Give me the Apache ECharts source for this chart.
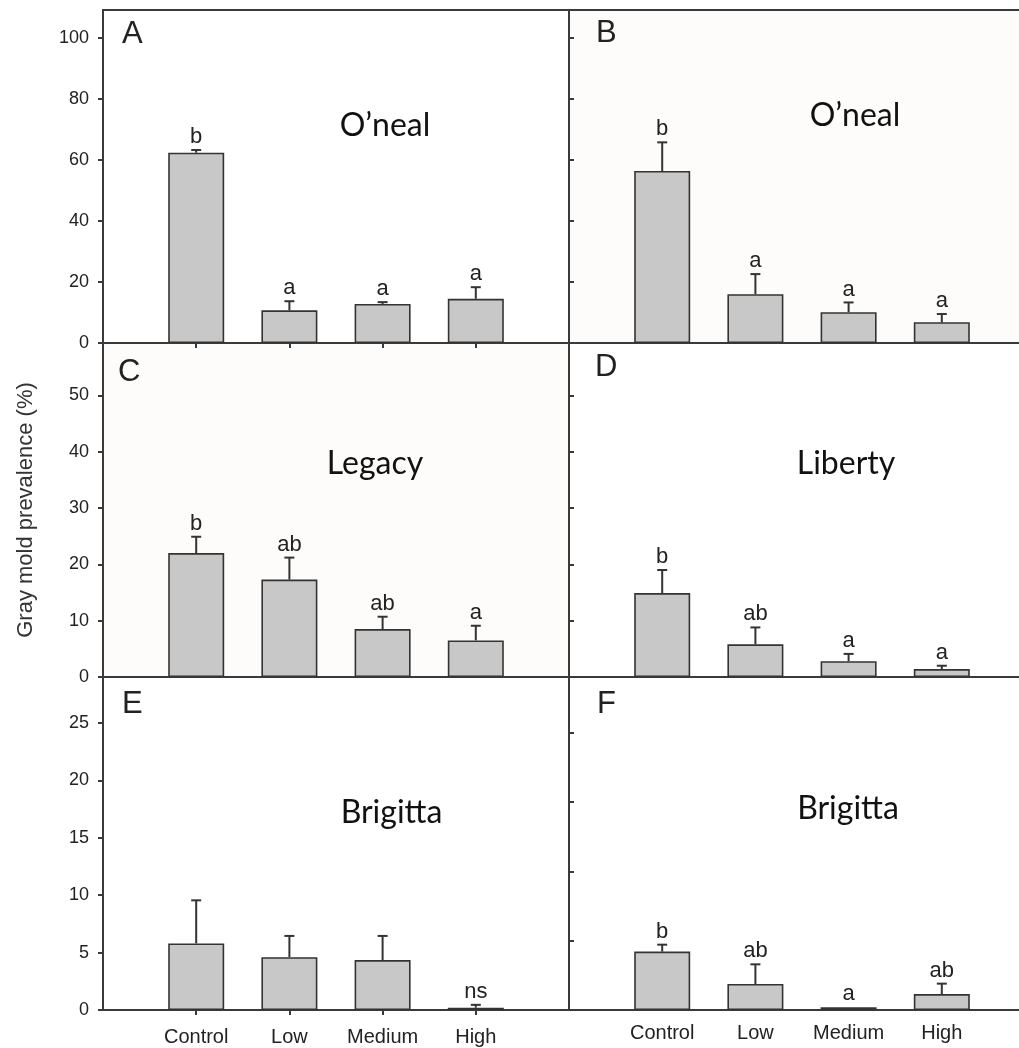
<!DOCTYPE html>
<html><head><meta charset="utf-8">
<script src="https://cdn.jsdelivr.net/npm/echarts@6/dist/echarts.min.js"></script>
<style>html,body{margin:0;padding:0;background:#fff}#c{width:1019px;height:1048px}</style>
</head><body><div id="c"></div>
<script>
// ---- data ----
const categories = ['Control', 'Low', 'Medium', 'High'];
const panelLetters = ['A', 'B', 'C', 'D', 'E', 'F'];
const cultivars = ['O\u2019neal', 'O\u2019neal', 'Legacy', 'Liberty', 'Brigitta', 'Brigitta'];
const yTitle = 'Gray mold prevalence (%)';

const meanA = [62.4, 10.7, 12.8, 14.5];
const errA  = [0.9, 3.0, 0.6, 3.8];
const sigA  = ['b', 'a', 'a', 'a'];

const meanB = [56.4, 16.0, 10.1, 6.8];
const errB  = [9.4, 6.6, 3.2, 2.7];
const sigB  = ['b', 'a', 'a', 'a'];

const meanC = [22.0, 17.3, 8.5, 6.5];
const errC  = [2.9, 3.9, 2.2, 2.6];
const sigC  = ['b', 'ab', 'ab', 'a'];

const meanD = [14.9, 5.8, 2.8, 1.4];
const errD  = [4.1, 3.0, 1.3, 0.6];
const sigD  = ['b', 'ab', 'a', 'a'];

const meanE = [5.8, 4.6, 4.35, 0.2];
const errE  = [3.75, 1.85, 2.1, 0.25];
const sigE  = ['', '', '', 'ns'];

const meanF = [5.05, 2.25, 0.23, 1.38];
const errF  = [0.6, 1.7, 0, 0.9];
const sigF  = ['b', 'ab', 'a', 'ab'];

const ticksTop = [0, 20, 40, 60, 80, 100];
const ticksMid = [0, 10, 20, 30, 40, 50];
const ticksBottomLeft = [0, 5, 10, 15, 20, 25];
const ticksBottomRight = [6, 12, 18, 24];
const maxTop = 109.2, maxMid = 59.3, maxBottomLeft = 29, maxBottomRight = 28.8;

// ---- layout ----
const panels = [
  {mean: meanA, err: errA, sig: sigA, ticks: ticksTop, max: maxTop, left: 103, top: 10, h: 333, labels: true, xTicks: true, xLabels: false, bg: '#ffffff'},
  {mean: meanB, err: errB, sig: sigB, ticks: ticksTop, max: maxTop, left: 569, top: 10, h: 333, labels: false, xTicks: false, xLabels: false, bg: '#fdfcfa'},
  {mean: meanC, err: errC, sig: sigC, ticks: ticksMid, max: maxMid, left: 103, top: 343, h: 334, labels: true, xTicks: false, xLabels: false, bg: '#fdfcfa'},
  {mean: meanD, err: errD, sig: sigD, ticks: ticksMid, max: maxMid, left: 569, top: 343, h: 334, labels: false, xTicks: false, xLabels: false, bg: '#ffffff'},
  {mean: meanE, err: errE, sig: sigE, ticks: ticksBottomLeft, max: maxBottomLeft, left: 103, top: 677, h: 333, labels: true, xTicks: true, xLabels: true, labelMargin: 17, bg: '#ffffff'},
  {mean: meanF, err: errF, sig: sigF, ticks: ticksBottomRight, max: maxBottomRight, left: 569, top: 677, h: 333, labels: false, xTicks: false, xLabels: true, labelMargin: 13, bg: '#ffffff'}
];
const letterPos = [[122, 34], [596, 33.5], [118, 372.5], [595, 367.5], [122, 704], [597, 704]];
const namePos = [[385, 125.5], [855, 115.5], [375, 463.5], [846, 463.3], [391.5, 812.3], [848, 808.3]];

const AX = '#3a3a3a';
const SANS = '"Liberation Sans", Arial, sans-serif';
const catPos = categories.map((c, i) => i + 1);

const grid = [], xAxis = [], yAxis = [], series = [], graphic = [];
panels.forEach((p, i) => {
  grid.push({left: p.left, top: p.top, width: 466, height: p.h, show: true,
    outerBoundsMode: 'none', containLabel: false,
    backgroundColor: p.bg, borderColor: AX, borderWidth: 2});
  xAxis.push({type: 'value', gridIndex: i, min: 0, max: 5,
    axisLine: {show: true, onZero: false, lineStyle: {color: AX, width: 2}},
    axisTick: {show: p.xTicks, customValues: catPos, length: 5, lineStyle: {color: AX, width: 2}},
    axisLabel: {show: p.xLabels, customValues: catPos, formatter: v => categories[Math.round(v) - 1] || '',
      fontSize: 20, fontFamily: SANS, color: '#222', margin: p.labelMargin || 12},
    splitLine: {show: false}});
  const y = {type: 'value', gridIndex: i, min: 0, max: p.max,
    axisLine: {show: true, lineStyle: {color: AX, width: 2}},
    axisTick: {show: true, inside: !p.labels, customValues: p.ticks, length: 5, lineStyle: {color: AX, width: 2}},
    axisLabel: {show: p.labels, customValues: p.ticks, fontSize: 18, fontFamily: SANS, color: '#222', margin: 14},
    splitLine: {show: false}};
  if (i === 2) {
    y.name = yTitle; y.nameLocation = 'middle'; y.nameGap = 66;
    y.nameTextStyle = {fontSize: 22, fontFamily: SANS, color: '#333'};
  }
  yAxis.push(y);
  series.push({type: 'bar', xAxisIndex: i, yAxisIndex: i, barWidth: 56,
    data: p.mean.map((v, k) => [catPos[k], v]),
    itemStyle: {color: '#c8c8c8', borderColor: '#333', borderWidth: 1.6},
    silent: true, animation: false});
  const sig = p.sig;
  series.push({type: 'custom', xAxisIndex: i, yAxisIndex: i, z: 5, animation: false, silent: true,
    data: p.mean.map((v, k) => [catPos[k], v, p.err[k]]),
    renderItem: function (params, api) {
      const x = api.value(0), m = api.value(1), e = api.value(2);
      const base = api.coord([x, m]);
      const top = api.coord([x, m + e]);
      const ch = [];
      if (e > 0) {
        ch.push({type: 'line', shape: {x1: base[0], y1: base[1], x2: top[0], y2: top[1]}, style: {stroke: '#333', lineWidth: 2}});
        ch.push({type: 'line', shape: {x1: top[0] - 5, y1: top[1], x2: top[0] + 5, y2: top[1]}, style: {stroke: '#333', lineWidth: 2}});
      }
      const s = sig[params.dataIndex];
      if (s) ch.push({type: 'text', style: {text: s, x: top[0], y: top[1] - 2, align: 'center', verticalAlign: 'bottom',
        font: '22px ' + SANS, fill: '#222'}});
      return {type: 'group', children: ch};
    }});
  graphic.push({type: 'text', x: letterPos[i][0], y: letterPos[i][1], z: 10,
    style: {text: panelLetters[i], font: '31px ' + SANS, fill: '#222', align: 'left', verticalAlign: 'middle'}});
  graphic.push({type: 'text', x: namePos[i][0], y: namePos[i][1], z: 10,
    style: {text: cultivars[i], font: '32px Lato, "Open Sans", sans-serif', fill: '#111', align: 'center', verticalAlign: 'middle'}});
});

const chart = echarts.init(document.getElementById('c'), null, {renderer: 'canvas'});
chart.setOption({backgroundColor: '#ffffff', animation: false, grid, xAxis, yAxis, series, graphic});
</script>
</body></html>
